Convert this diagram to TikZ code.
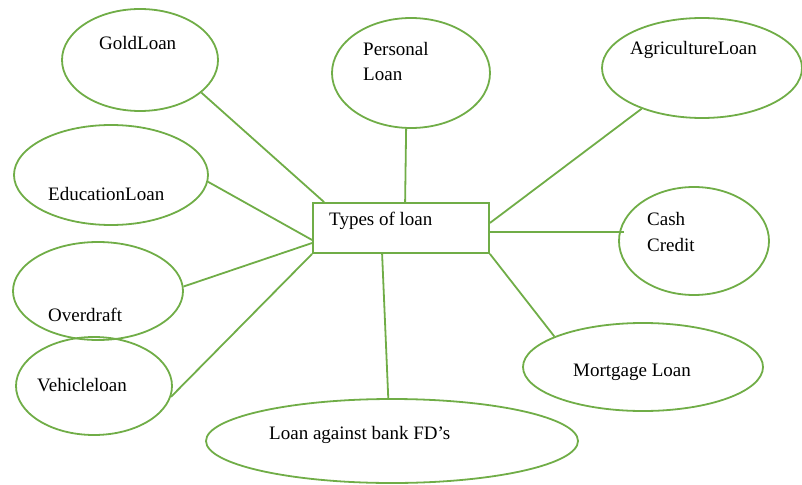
\documentclass[tikz,border=0pt]{standalone}
\usepackage{fontspec}
\setmainfont{Liberation Serif}
\usetikzlibrary{shapes.geometric,calc}
\definecolor{wordgreen}{RGB}{112,173,71}
\begin{document}
\begin{tikzpicture}[x=1pt,y=-1pt,
  bubble/.style={draw=wordgreen,line width=1.8pt,ellipse,inner sep=0pt},
  hub/.style={draw=wordgreen,line width=1.8pt,rectangle,inner sep=0pt,minimum width=176pt,minimum height=50pt},
  lbl/.style={anchor=base west,inner sep=0pt,font=\fontsize{19}{25}\selectfont,text=black},
  link/.style={draw=wordgreen,line width=1.8pt}]
\useasboundingbox (0,0) rectangle (802,484);
% hub
\node[hub] (box) at (401,228) {};
\node[lbl] (boxt) at (329,225) {Types of loan};
% bubbles
\node[bubble,minimum width=156pt,minimum height=102pt] (gold) at (140,60) {};
\node[lbl] (goldt) at (99,50) {GoldLoan};
\node[bubble,minimum width=158pt,minimum height=110pt] (pers) at (411,73) {};
\node[lbl] (perst1) at (363,56) {Personal};
\node[lbl] (perst2) at (363,81) {Loan};
\node[bubble,minimum width=200pt,minimum height=100pt] (agri) at (702,68) {};
\node[lbl] (agrit) at (630,55) {AgricultureLoan};
\node[bubble,minimum width=194pt,minimum height=100pt] (edu) at (111,175) {};
\node[lbl] (edut) at (48,200) {EducationLoan};
\node[bubble,minimum width=150pt,minimum height=108pt] (cash) at (694,241) {};
\node[lbl] (casht1) at (647,225) {Cash};
\node[lbl] (casht2) at (647,251) {Credit};
\node[bubble,minimum width=170pt,minimum height=98pt] (over) at (98,291) {};
\node[lbl] (overt) at (48,321) {Overdraft};
\node[bubble,minimum width=156pt,minimum height=98pt] (veh) at (94,386) {};
\node[lbl] (veht) at (37,391) {Vehicleloan};
\node[bubble,minimum width=240pt,minimum height=88pt] (mort) at (643,367) {};
\node[lbl] (mortt) at (573,376) {Mortgage Loan};
\node[bubble,minimum width=372pt,minimum height=84pt] (fd) at (392,441) {};
\node[lbl] (fdt) at (269,439) {Loan against bank FD’s};
\coordinate (cashend) at (624,232);
% connectors
\draw[link] (gold.-28) -- ($(box.north west)+(12,0)$);
\draw[link] (pers.-95) -- ($(box.north west)+(93,0)$);
\draw[link] (agri.-146.5) -- ($(box.east)+(0,-5)$);
\draw[link] (edu.-4) -- ($(box.west)+(0,12)$);
\draw[link] (cashend) -- ($(box.east)+(0,4)$);
\draw[link] (over.3.3) -- ($(box.west)+(0,15)$);
\draw[link] (mort.161.4) -- (box.south east);
\draw[link] (veh.-8) -- (box.south west);
\draw[link] (fd.95) -- ($(box.south west)+(70,0)$);
\end{tikzpicture}
\end{document}
